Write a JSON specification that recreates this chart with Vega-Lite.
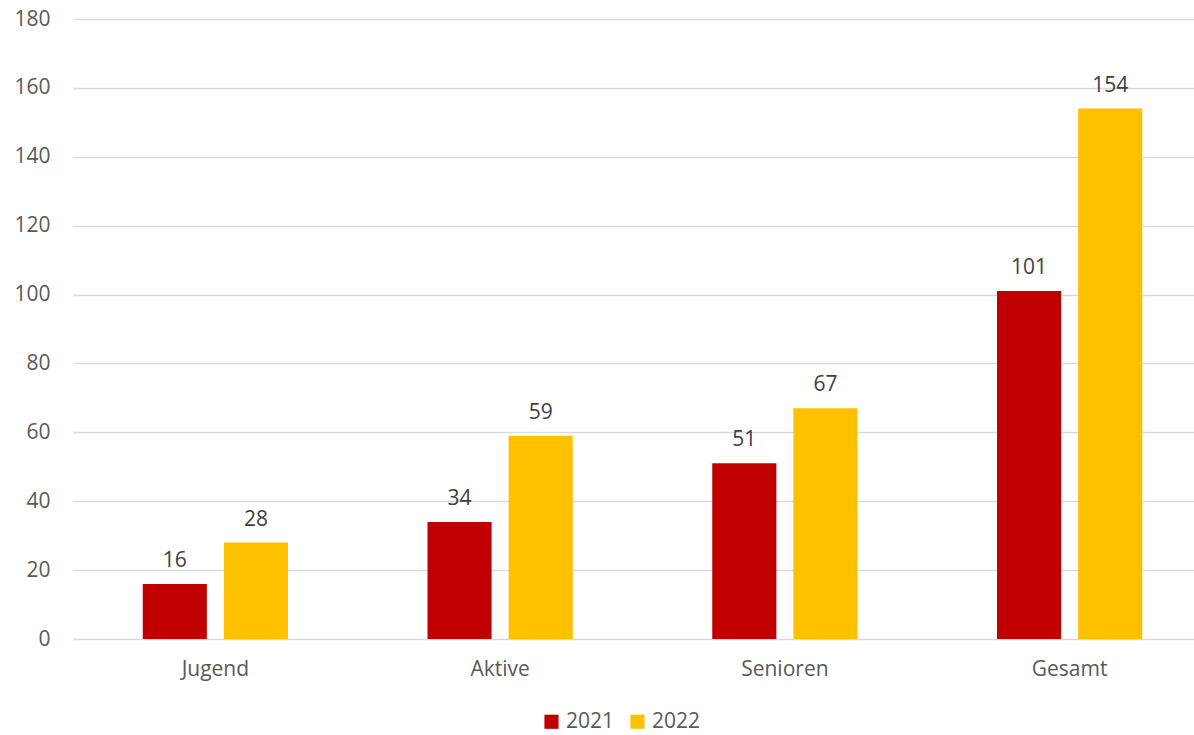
{
  "$schema": "https://vega.github.io/schema/vega-lite/v6.json",
  "autosize": "none",
  "width": 1139,
  "height": 620,
  "padding": {"left": 73, "top": 19, "right": 0, "bottom": 96},
  "background": "white",
  "config": {
    "view": {"stroke": null},
    "font": "Open Sans"
  },
  "data": {
    "values": [
      {"kategorie": "Jugend", "jahr": "2021", "wert": 16},
      {"kategorie": "Jugend", "jahr": "2022", "wert": 28},
      {"kategorie": "Aktive", "jahr": "2021", "wert": 34},
      {"kategorie": "Aktive", "jahr": "2022", "wert": 59},
      {"kategorie": "Senioren", "jahr": "2021", "wert": 51},
      {"kategorie": "Senioren", "jahr": "2022", "wert": 67},
      {"kategorie": "Gesamt", "jahr": "2021", "wert": 101},
      {"kategorie": "Gesamt", "jahr": "2022", "wert": 154}
    ]
  },
  "encoding": {
    "x": {
      "field": "kategorie",
      "type": "nominal",
      "sort": ["Jugend", "Aktive", "Senioren", "Gesamt"],
      "scale": {"paddingInner": 0, "paddingOuter": 0},
      "axis": {
        "title": null,
        "labelAngle": 0,
        "ticks": false,
        "domain": false,
        "labelFontSize": 21,
        "labelColor": "#595959",
        "labelPadding": 19
      }
    },
    "xOffset": {
      "field": "jahr",
      "type": "nominal",
      "scale": {"paddingInner": 0.21, "paddingOuter": 0.86}
    },
    "y": {
      "field": "wert",
      "type": "quantitative",
      "scale": {"domain": [0, 180], "nice": false},
      "axis": {
        "title": null,
        "values": [0, 20, 40, 60, 80, 100, 120, 140, 160, 180],
        "ticks": false,
        "domain": false,
        "gridColor": "#D9D9D9",
        "gridWidth": 1.5,
        "labelFontSize": 21,
        "labelColor": "#595959",
        "labelPadding": 23
      }
    }
  },
  "layer": [
    {
      "mark": {"type": "bar"},
      "encoding": {
        "color": {
          "field": "jahr",
          "type": "nominal",
          "scale": {"domain": ["2021", "2022"], "range": ["#C00000", "#FFC000"]},
          "legend": {
            "title": null,
            "orient": "none",
            "direction": "horizontal",
            "legendX": 468,
            "legendY": 692,
            "symbolType": "square",
            "symbolSize": 200,
            "symbolStrokeWidth": 0,
            "labelFontSize": 21,
            "labelColor": "#595959",
            "labelOffset": 4,
            "columnPadding": 12
          }
        }
      }
    },
    {
      "mark": {"type": "text", "fontSize": 21, "color": "#404040", "baseline": "alphabetic", "dy": -17},
      "encoding": {
        "text": {"field": "wert", "type": "quantitative"}
      }
    }
  ]
}
